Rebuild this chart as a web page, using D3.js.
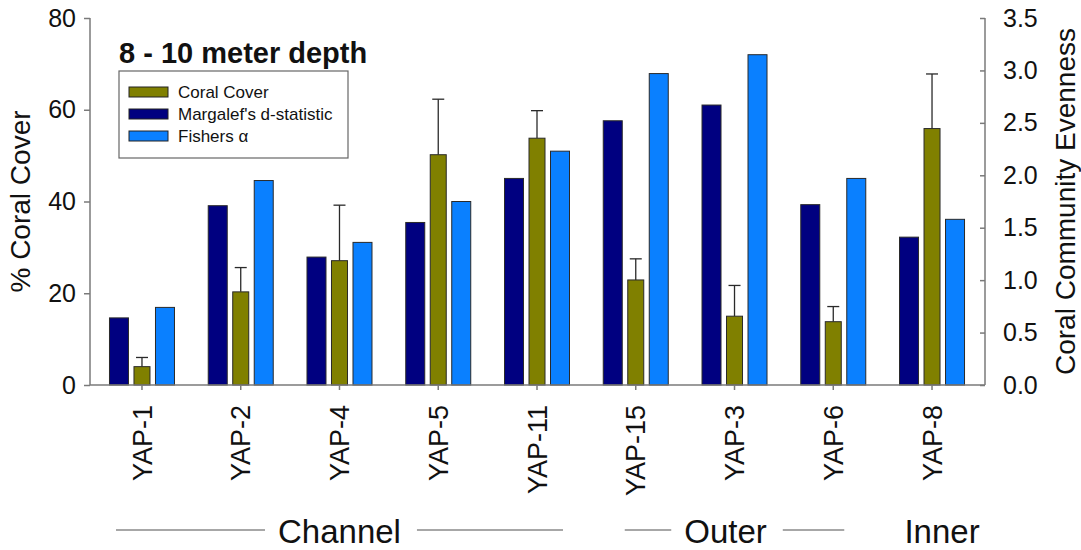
<!DOCTYPE html>
<html>
<head>
<meta charset="utf-8">
<script src="https://cdn.jsdelivr.net/npm/d3@7"></script>
<style>
  html, body { margin: 0; padding: 0; background: #fff; }
  svg { display: block; font-family: "Liberation Sans", Arial, sans-serif; }
</style>
</head>
<body>
<svg id="chart" width="1081" height="550"></svg>
<script>
// ---------- data ----------
const sites = ["YAP-1", "YAP-2", "YAP-4", "YAP-5", "YAP-11", "YAP-15", "YAP-3", "YAP-6", "YAP-8"];
const coralCover = [4.0, 20.3, 27.1, 50.2, 53.8, 22.9, 15.0, 13.8, 55.9];
const coralCoverErr = [2.0, 5.3, 12.1, 12.1, 6.0, 4.6, 6.7, 3.3, 11.9];
const margalefD = [0.64, 1.71, 1.22, 1.55, 1.97, 2.52, 2.67, 1.72, 1.41];
const fishersAlpha = [0.74, 1.95, 1.36, 1.75, 2.23, 2.97, 3.15, 1.97, 1.58];
const leftTicks = [0, 20, 40, 60, 80];
const rightTicks = [0, 0.5, 1.0, 1.5, 2.0, 2.5, 3.0, 3.5];
const seriesNames = ["Margalef's d-statistic", "Coral Cover", "Fishers α"];
const legendOrder = ["Coral Cover", "Margalef's d-statistic", "Fishers α"];
const groups = [
  { label: "Channel", first: "YAP-1", last: "YAP-11" },
  { label: "Outer", first: "YAP-15", last: "YAP-6" },
  { label: "Inner", first: "YAP-8", last: "YAP-8" }
];
const titleText = "8 - 10 meter depth";
const leftTitle = "% Coral Cover";
const rightTitle = "Coral Community Evenness";

// ---------- styles / layout ----------
const colors = { "Coral Cover": "#808000", "Margalef's d-statistic": "#000080", "Fishers α": "#0a80ff" };
const barWidth = { "Coral Cover": 16, "Margalef's d-statistic": 19, "Fishers α": 19 };
const groupPad = { "Channel": 26, "Outer": 11, "Inner": 0 };
const groupShift = { "Channel": 0, "Outer": -9, "Inner": 10 };
const axisColor = "#7a7a7a";
const plot = { left: 90, right: 985, top: 18, bottom: 385, bandLeft: 92.6, bandRight: 981.4 };

const svg = d3.select("#chart");

const x = d3.scaleBand().domain(sites).range([plot.bandLeft, plot.bandRight]);
const xc = s => x(s) + x.bandwidth() / 2;
const inner = d3.scalePoint().domain(seriesNames).range([-23, 23]);
const yL = d3.scaleLinear().domain([0, 80]).range([plot.bottom, plot.top]);
const yR = d3.scaleLinear().domain([0, 3.5]).range([plot.bottom, plot.top]);

const rows = sites.map((s, i) => ({
  site: s,
  vals: [
    { name: "Margalef's d-statistic", v: margalefD[i], scale: yR },
    { name: "Coral Cover", v: coralCover[i], err: coralCoverErr[i], scale: yL },
    { name: "Fishers α", v: fishersAlpha[i], scale: yR }
  ]
}));

// ---------- bars ----------
const g = svg.append("g");
rows.forEach(r => {
  r.vals.forEach(d => {
    const cx = xc(r.site) + inner(d.name);
    const w = barWidth[d.name];
    if (d.err !== undefined) {
      const yTop = d.scale(d.v + d.err);
      g.append("line").attr("x1", cx).attr("x2", cx)
        .attr("y1", d.scale(d.v)).attr("y2", yTop)
        .attr("stroke", "#2a2a2a").attr("stroke-width", 1.3);
      g.append("line").attr("x1", cx - 6).attr("x2", cx + 6)
        .attr("y1", yTop).attr("y2", yTop)
        .attr("stroke", "#2a2a2a").attr("stroke-width", 1.3);
    }
    g.append("rect")
      .attr("x", cx - w / 2).attr("width", w)
      .attr("y", d.scale(d.v)).attr("height", plot.bottom - d.scale(d.v))
      .attr("fill", colors[d.name]).attr("stroke", "#2a2a2a").attr("stroke-width", 1);
  });
});

// ---------- axes ----------
const axL = d3.axisLeft(yL).tickValues(leftTicks).tickSize(6).tickPadding(8).tickFormat(d3.format("d"));
const gL = svg.append("g").attr("transform", `translate(${plot.left},0)`).call(axL);
const axR = d3.axisRight(yR).tickValues(rightTicks).tickSize(-5).tickPadding(18).tickFormat(d3.format(".1f"));
const gR = svg.append("g").attr("transform", `translate(${plot.right},0)`).call(axR);
const axB = d3.axisBottom(x).tickSize(5).tickPadding(8);
const gB = svg.append("g").attr("transform", `translate(0,${plot.bottom})`).call(axB);

[gL, gR, gB].forEach(a => {
  a.select(".domain").remove();
  a.selectAll(".tick line").attr("stroke", axisColor).attr("stroke-width", 1.5);
  a.selectAll(".tick text").attr("fill", "#111").style("font-family", "Liberation Sans, Arial, sans-serif");
});
gL.selectAll(".tick text").style("font-size", "25px");
gR.selectAll(".tick text").style("font-size", "25px");
gB.selectAll(".tick text")
  .style("font-size", "27px")
  .attr("text-anchor", "end")
  .attr("dx", "0").attr("dy", "0.36em")
  .attr("transform", "rotate(-90)")
  .attr("x", -20).attr("y", 0);

// axis lines
svg.append("line").attr("x1", plot.left).attr("x2", plot.left).attr("y1", plot.top).attr("y2", plot.bottom)
  .attr("stroke", axisColor).attr("stroke-width", 1.5);
svg.append("line").attr("x1", plot.right).attr("x2", plot.right).attr("y1", plot.top).attr("y2", plot.bottom)
  .attr("stroke", axisColor).attr("stroke-width", 1.5);
svg.append("line").attr("x1", plot.left).attr("x2", plot.right).attr("y1", plot.bottom).attr("y2", plot.bottom)
  .attr("stroke", axisColor).attr("stroke-width", 1.5);

// axis titles
svg.append("text").attr("transform", `translate(30,${(plot.top + plot.bottom) / 2}) rotate(-90)`)
  .attr("text-anchor", "middle").style("font-size", "28px").attr("fill", "#111").text(leftTitle);
svg.append("text").attr("transform", `translate(1075,${(plot.top + plot.bottom) / 2}) rotate(-90)`)
  .attr("text-anchor", "middle").style("font-size", "28px").attr("fill", "#111").text(rightTitle);

// title
svg.append("text").attr("x", 119).attr("y", 63).style("font-size", "29px").style("font-weight", "bold")
  .attr("fill", "#111").text(titleText);

// legend
const lg = svg.append("g");
lg.append("rect").attr("x", 119).attr("y", 71).attr("width", 229).attr("height", 87)
  .attr("fill", "#fff").attr("stroke", "#666").attr("stroke-width", 1.2);
legendOrder.forEach((name, i) => {
  const cy = 92 + i * 22;
  lg.append("rect").attr("x", 129).attr("y", cy - 5).attr("width", 39).attr("height", 10)
    .attr("fill", colors[name]).attr("stroke", "#222").attr("stroke-width", 1);
  lg.append("text").attr("x", 178).attr("y", cy).attr("dy", "0.35em")
    .style("font-size", "17px").attr("fill", "#111").text(name);
});

// group labels
const gy = 530;
groups.forEach(grp => {
  const x0 = xc(grp.first) - groupPad[grp.label];
  const x1 = xc(grp.last) + groupPad[grp.label];
  const mid = (xc(grp.first) + xc(grp.last)) / 2 + groupShift[grp.label];
  const t = svg.append("text").attr("x", mid).attr("y", 543).attr("text-anchor", "middle")
    .style("font-size", "33px").attr("fill", "#111").text(grp.label);
  const bb = t.node().getBBox();
  if (grp.first !== grp.last) {
    svg.append("line").attr("x1", x0).attr("x2", bb.x - 13).attr("y1", gy).attr("y2", gy)
      .attr("stroke", "#8a8a8a").attr("stroke-width", 1.5);
    svg.append("line").attr("x1", bb.x + bb.width + 16).attr("x2", x1).attr("y1", gy).attr("y2", gy)
      .attr("stroke", "#8a8a8a").attr("stroke-width", 1.5);
  }
});
</script>
</body>
</html>
